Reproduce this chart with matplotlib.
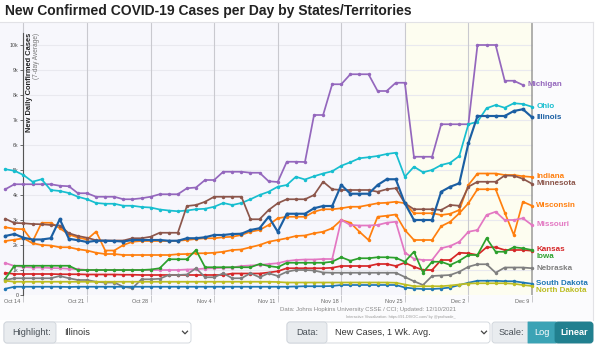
import numpy as np
import pandas as pd
import matplotlib
matplotlib.use("Agg")
import matplotlib.pyplot as plt
from matplotlib.lines import Line2D
from matplotlib.patches import FancyBboxPatch, Rectangle

plt.rcParams['font.family'] = ['Liberation Sans', 'DejaVu Sans']

# ---------------- Data (7-day avg new cases, Oct 12 .. Dec 9 2021) ----------------
dates = pd.date_range("2021-10-12", "2021-12-09", freq="D")
week_ticks = pd.date_range("2021-10-14", "2021-12-09", freq="7D")

nan = np.nan
michigan = [4230, 4430, 4430, 4430, 4430, 4430, 4370, 4350, 4070, 4070,
            3930, 3930, 3930, 3830, 3830, 3870, 3930, 4030, 4030, 4030,
            4270, 4300, 4600, 4600, 4930, 4930, 4930, 4890, 4890, 4550,
            4520, 5330, 5330, 5320, 7200, 7200, 8430, 8430, 8830, 8830,
            8830, 8160, 8160, 8490, 8490, 5530, 5530, 5530, 6830, 6830,
            6830, 6830, 10000, 10000, 10000, 8570, 8570, 8400, nan]
ohio = [5030, 4970, 4800, 4530, 4630, 4200, 4160, 4080, 3930, 3830,
        3680, 3650, 3650, 3570, 3570, 3520, 3500, 3420, 3380, 3350,
        3380, 3430, 3450, 3530, 3680, 3600, 3680, 3830, 4000, 4130,
        4330, 4400, 4730, 4620, 4750, 4860, 4950, 5170, 5310, 5470,
        5510, 5560, 5640, 5690, 4730, 5130, 4910, 5000, 5200, 5290,
        5560, 6830, 6930, 7470, 7600, 7490, 7670, 7640, 7530]
illinois = [2360, 2440, 2290, 2220, 2220, 2270, 3030, 2250, 2190, 2120,
            2170, 2170, 2160, 2140, 2200, 2200, 2200, 2200, 2170, 2170,
            2270, 2270, 2310, 2400, 2400, 2440, 2450, 2600, 2670, 3130,
            2530, 3250, 3250, 3250, 3470, 3560, 3560, 4400, 4050, 4050,
            4050, 4400, 4630, 4630, 3670, 3000, 3000, 3000, 4130, 4330,
            4470, 6070, 7160, 7160, 7160, 7160, 7360, 7430, 7110]
minnesota = [3050, 2880, 2870, 2840, 2830, 2800, 2780, 2470, 2360, 2290,
             2190, 2180, 2180, 2180, 2270, 2270, 2330, 2490, 2490, 2490,
             3560, 3600, 3730, 3930, 3930, 3930, 3930, 3030, 3030, 3400,
             3670, 3830, 3830, 3830, 4000, 4530, 4230, 4200, 4200, 4200,
             4200, 4130, 4230, 4270, 3670, 3430, 3430, 3430, 3400, 3600,
             3570, 4330, 4530, 4530, 4530, 4780, 4770, 4650, 4450]
indiana = [2710, 2650, 2630, 2140, 2890, 2890, 2670, 2420, 2300, 2220,
           2540, 1780, 1780, 2000, 2130, 2160, 2160, 2160, 2160, 2170,
           2200, 2240, 2270, 2270, 2310, 2330, 2400, 2530, 2600, 2800,
           3070, 3130, 3130, 3130, 3330, 3430, 3430, 3470, 3530, 3530,
           3600, 3670, 3690, 3730, 3670, 3270, 3270, 3270, 3200, 3250,
           3400, 4400, 4860, 4860, 4860, 4800, 4800, 4750, 4720]
wisconsin = [2160, 2210, 2270, 2070, 2000, 1980, 1910, 1910, 1830, 1780,
             1690, 1640, 1640, 1600, 1600, 1600, 1600, 1600, 1600, 1630,
             1640, 1670, 1670, 1690, 1730, 1800, 1820, 1910, 2000, 2130,
             2200, 2270, 2360, 2380, 2470, 2530, 2670, 3000, 2890, 2530,
             2200, 3130, 3170, 3220, 2600, 2200, 2200, 2200, 2750, 2930,
             3270, 3670, 4230, 4230, 4230, 3300, 2400, 3730, 3570]
missouri = [1280, 1160, 1120, 1100, 1100, 1080, 1070, 1050, 1030, 1000,
            1000, 1000, 1000, 1000, 1000, 1000, 1000, 1000, 1000, 1000,
            1020, 1030, 1060, 1070, 1090, 1100, 1160, 1180, 1200, 1240,
            1270, 1360, 1400, 1420, 1420, 1440, 1440, 3000, 2800, 2780,
            2780, 2800, 2890, 2930, 1700, 1450, 1400, 1400, 1870, 1960,
            2130, 2530, 2600, 3200, 3330, 3000, 3000, 3070, 2800]
kansas = [890, 840, 840, 840, 840, 840, 830, 830, 830, 820,
          820, 820, 820, 810, 810, 800, 800, 800, 800, 800,
          800, 800, 800, 800, 800, 860, 860, 860, 860, 900,
          950, 1070, 1070, 1070, 1070, 1070, 1090, 1160, 1160, 1160,
          1160, 1240, 1240, 1160, 1290, 1130, 1000, 1000, 1400, 1400,
          1690, 1670, 1600, 1910, 1910, 1800, 1800, 1800, 1770]
iowa = [650, 1170, 1170, 1170, 1170, 1170, 1170, 1170, 1000, 1000,
        1000, 1000, 1000, 1000, 1000, 1000, 1020, 1070, 1430, 1430,
        1430, 1800, 1110, 1110, 1110, 1110, 1110, 1110, 1240, 1160,
        1110, 1290, 1290, 1290, 1290, 1290, 1330, 1510, 1370, 1470,
        1470, 1510, 1510, 1490, 1330, 1730, 900, 1330, 1330, 1200,
        1370, 1600, 1600, 2270, 1730, 1730, 1910, 1870, 1800]
nebraska = [600, 670, 670, 670, 670, 670, 760, 670, 600, 600,
            530, 500, 500, 330, 270, 630, 630, 650, 800, 800,
            820, 1070, 710, 710, 870, 670, 670, 870, 710, 870,
            760, 930, 1000, 1000, 980, 900, 890, 890, 890, 890,
            890, 890, 890, 890, 720, 550, 400, 760, 780, 800,
            930, 1130, 1230, 1230, 890, 1100, 1100, 1100, 1070]
south_dakota = [250, 330, 330, 330, 330, 330, 330, 320, 330, 330,
                330, 330, 330, 330, 330, 330, 330, 330, 330, 330,
                330, 330, 330, 330, 330, 330, 330, 330, 330, 330,
                330, 330, 340, 350, 350, 350, 360, 400, 400, 400,
                400, 400, 400, 400, 300, 260, 240, 240, 260, 300,
                400, 490, 570, 570, 570, 550, 550, 500, 450]
north_dakota = [570, 530, 530, 530, 530, 530, 530, 530, 530, 530,
                530, 530, 530, 530, 530, 530, 530, 530, 530, 530,
                530, 530, 530, 530, 530, 530, 530, 530, 530, 530,
                520, 500, 500, 500, 500, 500, 500, 500, 500, 500,
                500, 500, 500, 490, 420, 350, 350, 350, 350, 380,
                420, 460, 470, 470, 470, 470, 450, 400, 360]

# name -> (values, colour); d3 category10 cycled alphabetically
series = {
    "Michigan": (michigan, "#9467bd"),
    "Ohio": (ohio, "#17becf"),
    "Illinois": (illinois, "#1b5fa3"),
    "Indiana": (indiana, "#ff7f0e"),
    "Minnesota": (minnesota, "#8c564b"),
    "Wisconsin": (wisconsin, "#ff7f0e"),
    "Missouri": (missouri, "#e377c2"),
    "Kansas": (kansas, "#d62728"),
    "Iowa": (iowa, "#2ca02c"),
    "Nebraska": (nebraska, "#7f7f7f"),
    "South Dakota": (south_dakota, "#1f77b4"),
    "North Dakota": (north_dakota, "#bcbd22"),
}
highlight = "Illinois"
# end-label nudges (px, down positive) so crowded labels don't collide
label_nudge = {"Iowa": 6, "North Dakota": 4, "Kansas": -1}

# ------------- Helpers --------------
W, H = 600, 345

def fx(px):
    return px / W

def fy(py):
    return 1 - py / H

def box(fig, x0, y0, x1, y1, fc, ec="#ced4da", r=3):
    fig.patches.append(FancyBboxPatch((x0 / 100, (H - y1) / 100), (x1 - x0) / 100, (y1 - y0) / 100,
                                      boxstyle=f"round,pad=0,rounding_size={r/100}",
                                      transform=fig.dpi_scale_trans, fc=fc, ec=ec, lw=0.6))

def chevron(fig, x, y, color="#444"):
    fig.lines.append(Line2D([fx(x - 2.5), fx(x), fx(x + 2.5)], [fy(y - 1.3), fy(y + 1.3), fy(y - 1.3)],
                            transform=fig.transFigure, color=color, lw=0.9))

# ------------- Main --------------
def main():
    fig = plt.figure(figsize=(6, 3.45), dpi=100, facecolor="white")

    # chart card background + borders
    fig.patches.append(Rectangle((0, fy(320)), fx(593), fy(22) - fy(320), transform=fig.transFigure,
                                 fc="#fbfbfd", ec="none", zorder=-5))
    fig.lines.append(Line2D([0, fx(593)], [fy(22), fy(22)], transform=fig.transFigure, color="#e2e2e6", lw=0.8))
    fig.lines.append(Line2D([fx(593), fx(593)], [fy(22), fy(320)], transform=fig.transFigure, color="#e2e2e6", lw=0.8))

    ax = fig.add_axes([0, fy(295), fx(532.6), fy(22) - fy(295)])
    ax.set_facecolor("#f7f7fc")
    x = np.arange(len(dates))
    ax.set_xlim(-0.584, 58.07)
    ax.set_ylim(0, 10920)

    # shaded recent period
    ax.axvspan(44, 58.07, color="#fdfdf0", lw=0, zorder=0)

    # grid
    tick_idx = [(d - dates[0]).days for d in week_ticks]
    ax.hlines(np.arange(1000, 10001, 1000), 2, 58.07, color="#e9e9ef", lw=0.8, zorder=1)
    ax.vlines(tick_idx[:-1], 0, 10920, color="#c9c9cf", lw=0.8, zorder=1)
    ax.axvline(tick_idx[-1], color="#9a9a9a", lw=1.1, zorder=1)

    # axes styling
    for s in ["top", "right", "bottom"]:
        ax.spines[s].set_visible(False)
    ax.spines["left"].set_position(("data", 2))
    ax.spines["left"].set_bounds(0, 10500)
    ax.spines["left"].set_color("#555")
    ax.spines["left"].set_linewidth(0.8)
    ax.set_yticks(np.arange(0, 10001, 1000))
    ax.set_yticklabels(["0"] + [f"{k}k" for k in range(1, 11)])
    ax.tick_params(axis="y", labelsize=3.8, length=2.5, width=0.6, color="#555", labelcolor="#444", pad=1)
    ax.set_xticks(tick_idx)
    ax.tick_params(axis="x", length=5, width=0.7, color="#c8c8cc", labelbottom=False)
    for t, d in zip(tick_idx, week_ticks):
        ax.annotate(d.strftime("%b %-d"), (t, 0), xytext=(-2, -4.5), textcoords="offset points",
                    ha="right", va="center", fontsize=4, color="#666", annotation_clip=False)

    # series
    for name, (vals, col) in series.items():
        y = np.asarray(vals, dtype=float)
        hl = name == highlight
        ax.plot(x, y, "-o", color=col, lw=1.55 if hl else 1.25, ms=2.8 if hl else 2.5, mew=0,
                zorder=6 if hl else 4, clip_on=False)
        last = np.where(~np.isnan(y))[0][-1]
        ax.annotate(name, (x[last], y[last]), xytext=(3, -label_nudge.get(name, 0) * 0.72),
                    textcoords="offset points", ha="left", va="center", fontsize=5.8,
                    fontweight="bold", color=col, annotation_clip=False)

    # titles / labels
    fig.text(fx(5), fy(11), "New Confirmed COVID-19 Cases per Day by States/Territories",
             fontsize=10, fontweight="bold", color="#222", va="center", ha="left")
    fig.text(fx(29.5), fy(33), "New Daily Confirmed Cases", rotation=90, fontsize=5.4,
             fontweight="bold", color="#222", va="top", ha="center")
    fig.text(fx(37), fy(33), "(7-day Average)", rotation=90, fontsize=4.7,
             color="#777", va="top", ha="center")

    # source
    fig.text(fx(456), fy(310), "Data: Johns Hopkins University CSSE / CCI; Updated: 12/10/2021",
             fontsize=4.3, color="#8a8a8a", ha="right", va="center")
    fig.text(fx(456), fy(317), "Interactive Visualization: https://91-DIVOC.com/ by @profwade_",
             fontsize=2.8, color="#999", ha="right", va="center")

    # ---------------- control bar ----------------
    box(fig, 4, 322, 191, 343, "white")
    box(fig, 4, 322, 56, 343, "#e9ecef")
    fig.text(fx(12), fy(332.5), "Highlight:", fontsize=6.6, color="#495057", va="center")
    fig.text(fx(64), fy(332.5), "Illinois", fontsize=6.6, color="#333", va="center")
    chevron(fig, 185, 332.5)

    box(fig, 287, 322, 490, 343, "white")
    box(fig, 287, 322, 327, 343, "#e9ecef")
    fig.text(fx(296), fy(332.5), "Data:", fontsize=6.6, color="#495057", va="center")
    fig.text(fx(335), fy(332.5), "New Cases, 1 Wk. Avg.", fontsize=6.6, color="#333", va="center")
    chevron(fig, 484, 332.5)

    box(fig, 492, 322, 593, 343, "#e9ecef")
    fig.text(fx(499), fy(332.5), "Scale:", fontsize=6.6, color="#495057", va="center")
    box(fig, 528, 322, 556, 343, "#3ba3b5", ec="#3ba3b5", r=0.1)
    box(fig, 555, 322, 593, 343, "#21808f", ec="#21808f", r=3)
    fig.text(fx(541.5), fy(332.5), "Log", fontsize=6.6, color="white", va="center", ha="center")
    fig.text(fx(574), fy(332.5), "Linear", fontsize=6.6, color="white", va="center", ha="center",
             fontweight="bold")

    fig.savefig("out.png", dpi=100, facecolor=fig.get_facecolor())
    plt.close(fig)


if __name__ == "__main__":
    main()
